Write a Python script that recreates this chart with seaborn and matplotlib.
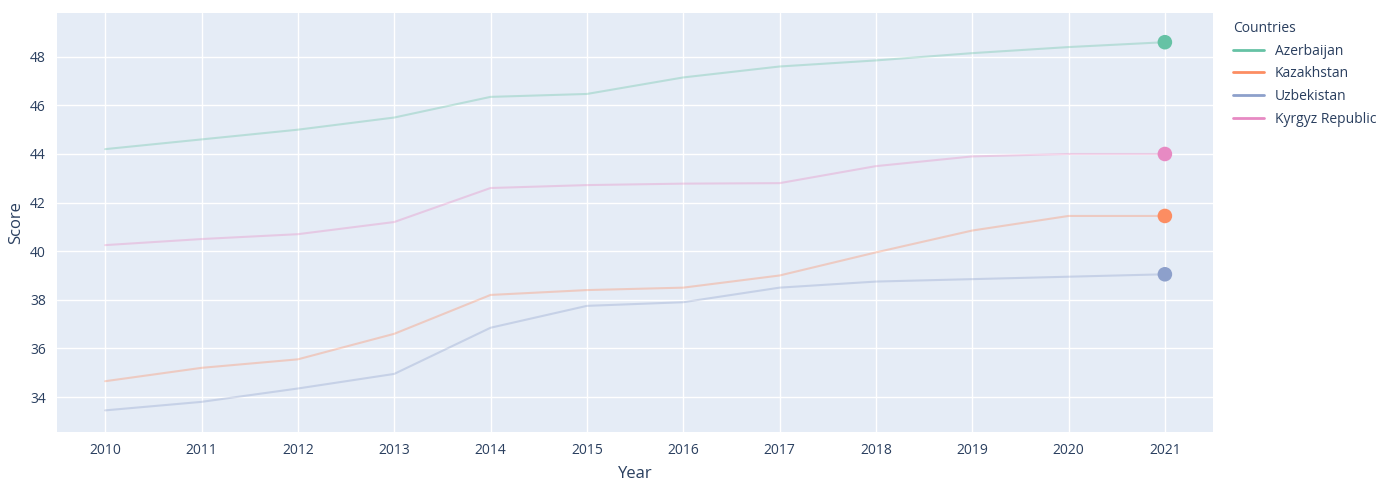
import numpy as np
import pandas as pd
import matplotlib
matplotlib.use("Agg")
import matplotlib.pyplot as plt
from matplotlib.lines import Line2D
import seaborn as sns

years = list(range(2010, 2022))
countries = ["Azerbaijan", "Kazakhstan", "Uzbekistan", "Kyrgyz Republic"]
azerbaijan = [44.2, 44.6, 45.0, 45.5, 46.35, 46.47, 47.15, 47.6, 47.85, 48.15, 48.4, 48.6]
kazakhstan = [34.65, 35.2, 35.55, 36.6, 38.2, 38.4, 38.5, 39.0, 39.95, 40.85, 41.45, 41.45]
uzbekistan = [33.45, 33.8, 34.35, 34.95, 36.85, 37.75, 37.9, 38.5, 38.75, 38.85, 38.95, 39.05]
kyrgyz = [40.25, 40.5, 40.7, 41.2, 42.6, 42.72, 42.78, 42.8, 43.5, 43.9, 44.0, 44.0]
colors = ["#66c2a5", "#fc8d62", "#8da0cb", "#e78ac3"]
y_ticks = [34, 36, 38, 40, 42, 44, 46, 48]

series = [azerbaijan, kazakhstan, uzbekistan, kyrgyz]
df = pd.DataFrame({
    "Year": np.tile(years, len(countries)),
    "Score": np.concatenate(series),
    "Countries": np.repeat(countries, len(years)),
})
last = df[df["Year"] == years[-1]]

sns.set_theme(style="darkgrid", rc={
    "axes.facecolor": "#E5ECF6",
    "grid.color": "white",
    "grid.linewidth": 1.0,
})
plt.rcParams["font.family"] = ["Open Sans", "DejaVu Sans"]

fig = plt.figure(figsize=(13.98, 4.83), dpi=100)
ax = fig.add_axes([0.0408, 0.1056, 0.8269, 0.8674])
palette = dict(zip(countries, colors))

sns.lineplot(data=df, x="Year", y="Score", hue="Countries", palette=palette,
             hue_order=countries, alpha=0.35, linewidth=1.5, ax=ax, legend=False)
sns.scatterplot(data=last, x="Year", y="Score", hue="Countries", palette=palette,
                hue_order=countries, s=110, edgecolor="none", ax=ax, legend=False,
                zorder=5)

ax.set_xlim(2009.5, 2021.5)
ax.set_ylim(32.56, 49.8)
ax.set_xticks(years)
ax.set_xticklabels([str(y) for y in years])
ax.set_yticks(y_ticks)
ax.tick_params(axis="both", colors="#2a3f5f", labelsize=10, length=0, pad=8)
ax.set_xlabel("Year", color="#2a3f5f", fontsize=12, labelpad=6)
ax.set_ylabel("Score", color="#2a3f5f", fontsize=12, labelpad=4)
for s in ax.spines.values():
    s.set_visible(False)

handles = [Line2D([0], [0], color=c, lw=2) for c in colors]
leg = fig.legend(handles, countries, title="Countries", loc="upper left",
                 bbox_to_anchor=(0.878, 0.968), frameon=False, fontsize=10,
                 title_fontsize=10, handlelength=2.2, labelspacing=0.55,
                 borderaxespad=0)
leg._legend_box.align = "left"
for t in leg.get_texts():
    t.set_color("#2a3f5f")
leg.get_title().set_color("#2a3f5f")

fig.savefig("out.png", dpi=100)
